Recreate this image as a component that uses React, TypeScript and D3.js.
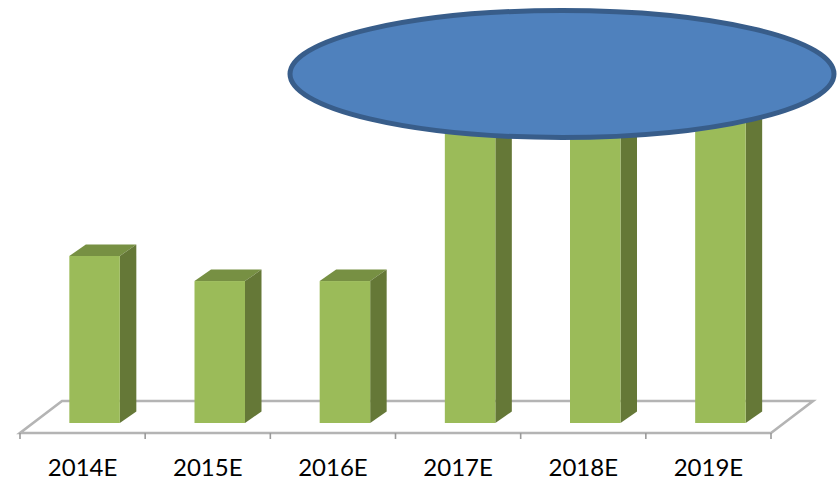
import React from "react";
import * as d3 from "d3";

const years = ["2014E", "2015E", "2016E", "2017E", "2018E", "2019E"];
const barValues = [7, 5.95, 5.95, 14, 14, 14];

const WIDTH = 838;
const HEIGHT = 480;
const DEPTH_X = 16.5;
const DEPTH_Y = 11.5;
const BAR_WIDTH = 50.5;
const BAR_OFFSET = 12;
const FLOOR_FRONT = 433;
const FLOOR_LEFT = 20;
const FLOOR_RIGHT = 771;
const FLOOR_SKEW_X = 42;
const FLOOR_SKEW_Y = 32;

const x = d3.scaleBand<string>().domain(years).range([FLOOR_LEFT, FLOOR_RIGHT]).paddingInner(0).paddingOuter(0);
const y = d3.scaleLinear().domain([0, 7]).range([423, 256]);

const polygon = (pts: [number, number][]) => d3.line()(pts) + "Z";

export default function App() {
  const floor = polygon([
    [FLOOR_LEFT, FLOOR_FRONT],
    [FLOOR_RIGHT, FLOOR_FRONT],
    [FLOOR_RIGHT + FLOOR_SKEW_X, FLOOR_FRONT - FLOOR_SKEW_Y],
    [FLOOR_LEFT + FLOOR_SKEW_X, FLOOR_FRONT - FLOOR_SKEW_Y],
  ]);
  const ticks = [...years.map((d) => x(d)!), FLOOR_RIGHT];

  return (
    <svg
      width={WIDTH}
      height={HEIGHT}
      viewBox={`0 0 ${WIDTH} ${HEIGHT}`}
      style={{ position: "absolute", left: 0, top: 0, display: "block" }}
    >
      <rect width={WIDTH} height={HEIGHT} fill="#ffffff" />
      <path d={floor} fill="#ffffff" stroke="#b4b4b4" strokeWidth={2.6} strokeLinejoin="miter" />
      {ticks.map((t) => (
        <line key={t} x1={t} x2={t} y1={FLOOR_FRONT} y2={FLOOR_FRONT + 6} stroke="#9a9a9a" strokeWidth={1.6} />
      ))}
      {years.map((year, i) => {
        const x0 = x(year)! + (x.bandwidth() - BAR_WIDTH) / 2 + BAR_OFFSET;
        const x1 = x0 + BAR_WIDTH;
        const yTop = y(barValues[i]);
        const yBase = y(0);
        return (
          <g key={year}>
            <path
              d={polygon([
                [x0, yTop],
                [x1, yTop],
                [x1 + DEPTH_X, yTop - DEPTH_Y],
                [x0 + DEPTH_X, yTop - DEPTH_Y],
              ])}
              fill="#779043"
            />
            <path
              d={polygon([
                [x1, yTop],
                [x1 + DEPTH_X, yTop - DEPTH_Y],
                [x1 + DEPTH_X, yBase - DEPTH_Y],
                [x1, yBase],
              ])}
              fill="#657837"
            />
            <rect x={x0} y={yTop} width={BAR_WIDTH} height={yBase - yTop} fill="#9bbb59" />
          </g>
        );
      })}
      {years.map((year) => (
        <text
          key={year}
          x={x(year)! + x.bandwidth() / 2}
          y={476}
          textAnchor="middle"
          fontFamily="Lato, 'Open Sans', sans-serif"
          fontSize={24}
          fill="#000000"
        >
          {year}
        </text>
      ))}
      <ellipse cx={562} cy={74} rx={272} ry={63.5} fill="#4f81bd" stroke="#385d8a" strokeWidth={5} />
    </svg>
  );
}
